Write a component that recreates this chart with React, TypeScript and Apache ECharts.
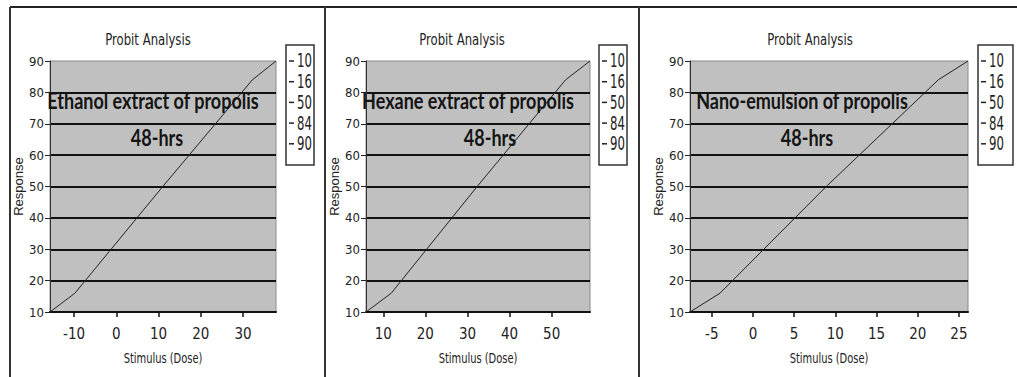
import React, { useEffect, useRef } from "react";
import * as echarts from "echarts";

const chartTitle = "Probit Analysis";
const xAxisTitle = "Stimulus (Dose)";
const yAxisTitle = "Response";
const panelNames = ["Ethanol extract of propolis", "Hexane extract of propolis", "Nano-emulsion of propolis"];
const durationLabel = "48-hrs";
const legendLabels = ["10", "16", "50", "84", "90"];

const responsePct = [10, 16, 50, 84, 90];
const ethanolDose = [-15.7, -9.8, 11.0, 32.2, 37.8];
const hexaneDose = [5.9, 11.9, 32.3, 53.3, 59.1];
const nanoDose = [-7.64, -4.0, 8.9, 22.5, 26.1];

const ethanolXTicks = [-10, 0, 10, 20, 30];
const hexaneXTicks = [10, 20, 30, 40, 50];
const nanoXTicks = [-5, 0, 5, 10, 15, 20, 25];
const yTicks = [10, 20, 30, 40, 50, 60, 70, 80, 90];

const NARROW = "'Liberation Sans Narrow', 'DejaVu Sans Condensed', 'Arial Narrow', sans-serif";

export default function App() {
  const ref = useRef<HTMLDivElement>(null);
  useEffect(() => {
    document.body.style.margin = "0";
    const chart = echarts.init(ref.current!, null, { renderer: "svg" });
    const doses = [ethanolDose, hexaneDose, nanoDose];
    const xTicks = [ethanolXTicks, hexaneXTicks, nanoXTicks];
    const grids = [
      { left: 50, top: 61, width: 226, height: 251 },
      { left: 366, top: 61, width: 224, height: 251 },
      { left: 690, top: 61, width: 278, height: 251 },
    ];
    const titleX = [148, 462, 810];
    const boxes = [
      { x: 286, w: 28 },
      { x: 599, w: 28 },
      { x: 978, w: 35 },
    ];
    const ann = [
      { x1: 153, x2: 157 },
      { x1: 468, x2: 490 },
      { x1: 802, x2: 807 },
    ];

    const graphic: any[] = [];
    graphic.push({ type: "line", shape: { x1: 10, y1: 7, x2: 1017, y2: 7 }, style: { stroke: "#222", lineWidth: 2 } });
    [10, 325, 639].forEach((x) =>
      graphic.push({ type: "line", shape: { x1: x, y1: 7, x2: x, y2: 377 }, style: { stroke: "#333", lineWidth: 2 } })
    );
    for (let p = 0; p < 3; p++) {
      graphic.push({
        type: "text",
        x: titleX[p],
        y: 39,
        scaleY: 1.25,
        style: { text: chartTitle, font: `13px ${NARROW}`, fill: "#222", textAlign: "center", textVerticalAlign: "middle" },
      });
      graphic.push({
        type: "text",
        x: grids[p].left + grids[p].width / 2,
        y: 358,
        scaleY: 1.25,
        style: { text: xAxisTitle, font: `11px ${NARROW}`, fill: "#222", textAlign: "center", textVerticalAlign: "middle" },
      });
      const b = boxes[p];
      graphic.push({
        type: "rect",
        shape: { x: b.x, y: 45, width: b.w, height: 120 },
        style: { fill: "#fff", stroke: "#333", lineWidth: 1.5 },
      });
      legendLabels.forEach((lab, i) => {
        const cy = 61 + i * 20.7;
        graphic.push({ type: "line", shape: { x1: b.x + 3, y1: cy, x2: b.x + 8, y2: cy }, style: { stroke: "#222", lineWidth: 1.5 } });
        graphic.push({
          type: "text",
          x: b.x + 11,
          y: cy,
          scaleY: 1.45,
          style: { text: lab, font: `13px ${NARROW}`, fill: "#222", textAlign: "left", textVerticalAlign: "middle" },
        });
      });
      graphic.push({
        type: "text",
        x: ann[p].x1,
        y: 99,
        scaleY: 1.3,
        z: 100,
        style: { text: panelNames[p], font: `bold 18px Lato, 'Open Sans', sans-serif`, fill: "#141414", textAlign: "center", textVerticalAlign: "middle" },
      });
      graphic.push({
        type: "text",
        x: ann[p].x2,
        y: 136,
        scaleY: 1.3,
        z: 100,
        style: { text: durationLabel, font: `bold 18px Lato, 'Open Sans', sans-serif`, fill: "#141414", textAlign: "center", textVerticalAlign: "middle" },
      });
    }

    const option: any = {
      animation: false,
      backgroundColor: "#fff",
      grid: grids.map((g) => ({
        ...g,
        show: true,
        backgroundColor: "#c0c0c0",
        borderColor: "#8a8a8a",
        borderWidth: 1,
        containLabel: false,
      })),
      xAxis: doses.map((d, i) => ({
        type: "value",
        gridIndex: i,
        min: d[0],
        max: d[d.length - 1],
        axisLine: { show: true, onZero: false, lineStyle: { color: "#111", width: 2 } },
        axisTick: { show: true, length: 5, customValues: xTicks[i], lineStyle: { color: "#111", width: 1.5 } },
        axisLabel: { customValues: xTicks[i], margin: 14, fontSize: 15, fontFamily: NARROW, color: "#222" },
        splitLine: { show: false },
      })),
      yAxis: doses.map((_, i) => ({
        type: "value",
        gridIndex: i,
        min: 10,
        max: 90,
        interval: 10,
        name: yAxisTitle,
        nameLocation: "middle",
        nameGap: 21,
        nameTextStyle: { fontSize: 13, fontFamily: "'Liberation Sans', Arial, sans-serif", color: "#222" },
        axisLine: { show: true, onZero: false, lineStyle: { color: "#333", width: 1 } },
        axisTick: { show: true, length: 5, lineStyle: { color: "#222" } },
        axisLabel: { margin: 6, fontSize: 13, fontFamily: NARROW, color: "#222", customValues: yTicks },
        splitLine: { show: true, showMaxLine: false, lineStyle: { color: "#111", width: 2 } },
      })),
      series: doses.map((d, i) => ({
        type: "line",
        xAxisIndex: i,
        yAxisIndex: i,
        data: d.map((x, k) => [x, responsePct[k]]),
        showSymbol: false,
        symbol: "none",
        lineStyle: { color: "#222", width: 1 },
        z: 5,
      })),
      graphic,
    };
    chart.setOption(option);
    return () => chart.dispose();
  }, []);
  return <div ref={ref} style={{ width: 1017, height: 377, background: "#fff" }} />;
}
